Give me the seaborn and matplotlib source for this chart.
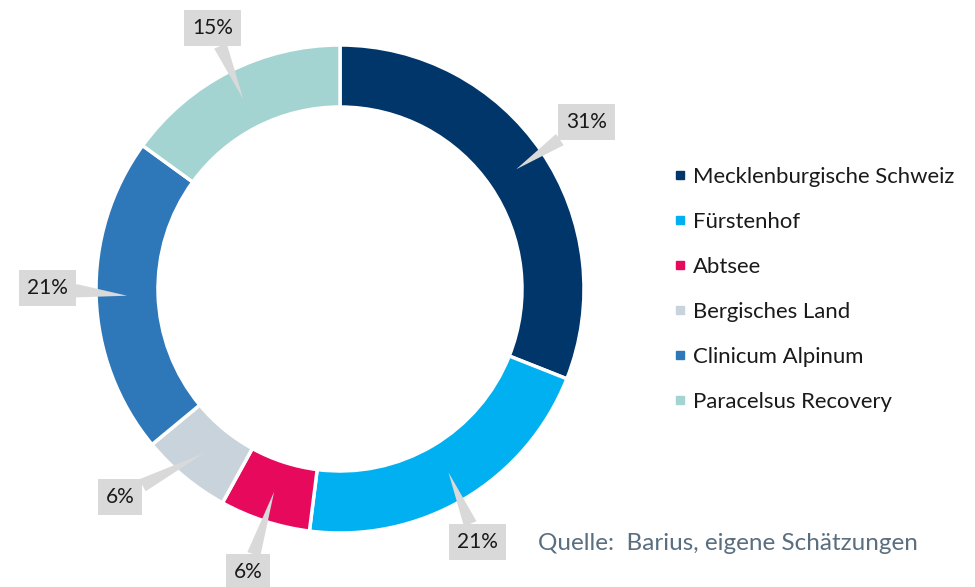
import numpy as np
import matplotlib
matplotlib.use("Agg")
import matplotlib.pyplot as plt
import seaborn as sns
from matplotlib.lines import Line2D

# ---- data ----
categories = ["Mecklenburgische Schweiz", "Fürstenhof", "Abtsee",
              "Bergisches Land", "Clinicum Alpinum", "Paracelsus Recovery"]
shares = [31, 21, 6, 6, 21, 15]
share_labels = ["31%", "21%", "6%", "6%", "21%", "15%"]
source_text = "Quelle:  Barius, eigene Schätzungen"

# ---- style ----
colors = ["#00366a", "#00b0f0", "#e6095c", "#c9d3dc", "#2e77b8", "#a3d4d1"]
label_angle_tweak = [0, -2, 0, -7, -2, -1]   # degrees, layout only
label_radius_factor = [1.22, 1.18, 1.22, 1.24, 1.20, 1.19]

sns.set_theme(style="white")
plt.rcParams['font.family'] = ['Lato', 'DejaVu Sans']

W, H = 975, 587
fig = plt.figure(figsize=(W / 100, H / 100), dpi=100)
ax = fig.add_axes([0, 0, 1, 1])

cx, cy = 340, H - 289
R = 244
ring = 62

wedges, _ = ax.pie(shares, colors=colors, startangle=90, counterclock=False,
                   radius=R, center=(cx, cy),
                   wedgeprops=dict(width=ring, edgecolor="white", linewidth=2.5))
ax.set_xlim(0, W)
ax.set_ylim(0, H)
ax.set_aspect("auto")
ax.axis("off")

for w, lab, tw, rf in zip(wedges, share_labels, label_angle_tweak, label_radius_factor):
    mid = np.deg2rad((w.theta1 + w.theta2) / 2)
    tip = (cx + (R - ring / 2) * np.cos(mid), cy + (R - ring / 2) * np.sin(mid))
    la = mid + np.deg2rad(tw)
    pos = (cx + rf * R * np.cos(la), cy + rf * R * np.sin(la))
    ax.annotate(lab, xy=tip, xytext=pos, ha="center", va="center",
                fontsize=15, color="#1a1a1a", zorder=5,
                bbox=dict(boxstyle="square,pad=0.38", fc="#d9d9d9", ec="none"),
                arrowprops=dict(arrowstyle="wedge,tail_width=0.65,shrink_factor=0.5",
                                fc="#d9d9d9", ec="none", shrinkA=0, shrinkB=0,
                                relpos=(0.5, 0.5)))

handles = [Line2D([], [], marker="s", ls="", color=c, markersize=6) for c in colors]
fs = 15.9
fig.legend(handles, categories, loc="upper left",
           bbox_to_anchor=(674 / W, 1 - 167 / H), frameon=False,
           fontsize=fs, handlelength=0.55, handletextpad=0.33,
           labelspacing=1.13, borderpad=0, borderaxespad=0,
           labelcolor="#1a1a1a")

ax.text(538, H - 543, source_text, color="#596e7f", fontsize=17.5,
        ha="left", va="center")

fig.savefig("out.png", dpi=100)
